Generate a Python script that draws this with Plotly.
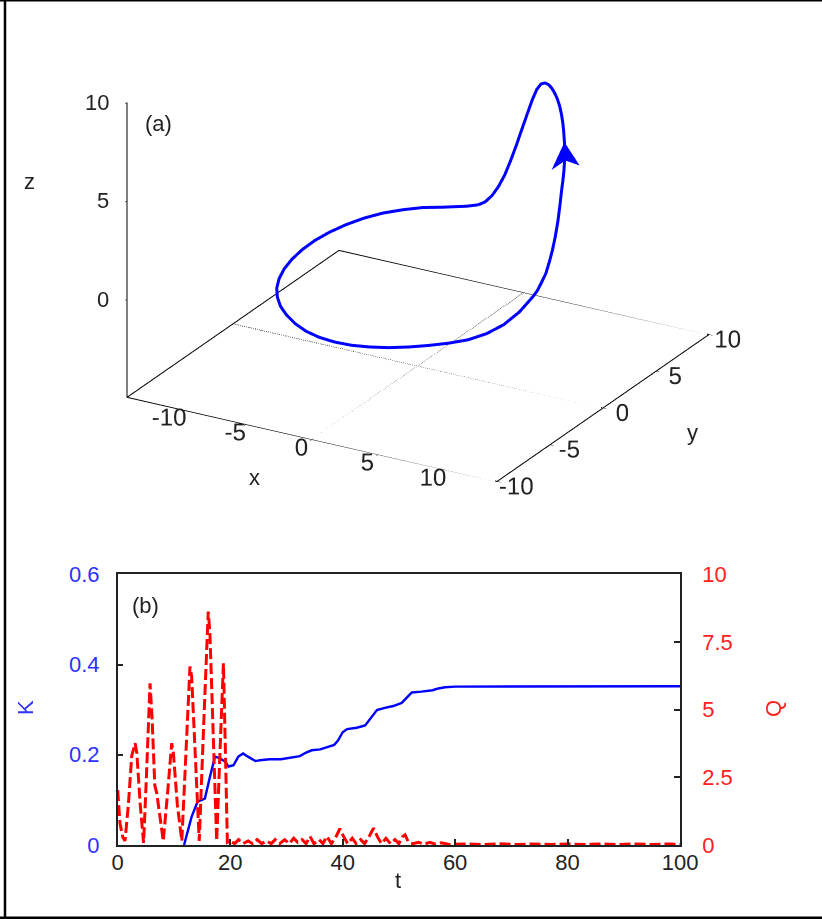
import plotly.graph_objects as go

# ---------------- panel (a): trajectory ----------------
traj_x = [-1.20, -1.91, -2.59, -3.25, -4.23, -5.11, -5.88, -6.51, -6.99, -7.31,
          -7.48, -7.48, -7.31, -6.99, -6.51, -5.88, -5.11, -4.23, -3.25, -2.18,
          -1.06, 0.11, 1.30, 2.48, 3.63, 4.73, 5.75, 6.69, 7.51, 8.21,
          8.77, 9.17, 9.42, 9.50, 9.49, 9.45, 9.40, 9.31, 9.21, 9.08,
          8.94, 8.77, 8.57, 8.36, 8.13, 7.88, 7.61, 7.32, 7.01, 6.69,
          6.35, 6.00, 5.63, 5.25, 4.86, 4.46, 4.05, 3.63, 3.20, 2.77,
          2.33, 1.89, 1.44, 1.00, 0.56, 0.11, -0.33, -0.77, -1.20]
traj_y = [7.21, 6.99, 6.70, 6.36, 5.70, 4.90, 4.00, 2.99, 1.91, 0.77,
          -0.41, -1.59, -2.77, -3.91, -4.99, -6.00, -6.90, -7.70, -8.36, -8.88,
          -9.25, -9.45, -9.49, -9.37, -9.08, -8.64, -8.05, -7.32, -6.46, -5.50,
          -4.46, -3.34, -2.18, -1.00, -0.56, -0.11, 0.33, 0.77, 1.20, 1.63,
          2.05, 2.46, 2.86, 3.25, 3.63, 4.00, 4.35, 4.69, 5.01, 5.32,
          5.61, 5.88, 6.13, 6.36, 6.57, 6.77, 6.94, 7.08, 7.21, 7.31,
          7.40, 7.45, 7.49, 7.50, 7.49, 7.45, 7.40, 7.31, 7.21]
traj_z = [0.32, 0.22, 0.20, 0.20, 0.28, 0.33, 0.38, 0.40, 0.40, 0.40,
          0.39, 0.37, 0.35, 0.33, 0.31, 0.30, 0.29, 0.26, 0.22, 0.14,
          0.06, 0.00, -0.04, -0.07, -0.09, -0.12, -0.15, -0.20, -0.28, -0.36,
          -0.35, -0.25, 0.00, 0.35, 0.50, 0.75, 1.00, 1.40, 1.85, 2.35,
          2.95, 3.60, 4.15, 4.50, 4.80, 5.10, 5.40, 5.75, 6.10, 6.42,
          6.70, 6.95, 7.15, 7.30, 7.41, 7.46, 7.42, 7.25, 6.85, 6.20,
          5.40, 4.55, 3.65, 2.80, 2.00, 1.35, 0.85, 0.50, 0.32]
arrow_at = 47          # arrow tip sits on this trajectory sample
arrow_len = 1.42       # arrow head length / half width in data units
arrow_half = 0.83

x_range = [-14, 14]
y_range = [-10, 10]
z_range = [-5, 10]
x_ticks = [-10, -5, 0, 5, 10]
y_ticks = [-10, -5, 0, 5, 10]
z_ticks = [0, 5, 10]

# ---------------- panel (b): K(t) and Q(t) ----------------
t_K = [11.8, 12.5, 13.15, 14.2, 15.5, 16.4, 17.3, 18.2, 19.1, 19.7, 20.6, 21.45,
       22.3, 23.0, 24.5, 25.3, 27.0, 29.0, 31.0, 32.4, 33.5, 34.5, 36.0, 37.2,
       38.5, 39.2, 40.0, 40.8, 42.5, 44.0, 45.0, 46.1, 47.5, 49.0, 50.5, 51.5,
       52.3, 54.0, 56.0, 57.0, 58.2, 60.0, 100.0]
K = [0.0, 0.03, 0.063, 0.096, 0.103, 0.151, 0.196, 0.192, 0.185, 0.174, 0.177, 0.196,
     0.203, 0.197, 0.186, 0.188, 0.19, 0.19, 0.194, 0.197, 0.205, 0.21, 0.212, 0.2165,
     0.222, 0.232, 0.25, 0.257, 0.26, 0.265, 0.28, 0.299, 0.304, 0.308, 0.315, 0.328,
     0.338, 0.34, 0.343, 0.347, 0.3495, 0.351, 0.352]

t_Q = [0.0, 0.4, 0.9, 1.3, 1.9, 2.5, 3.1, 3.4, 4.0, 4.6, 5.1, 5.75, 6.1, 6.6, 6.95,
       7.5, 8.1, 8.9, 9.6, 9.9, 10.6, 11.4, 12.1, 12.85, 13.15, 13.9, 14.5, 15.3,
       16.1, 16.4, 17.0, 17.6, 18.2, 18.8, 19.2, 19.5, 20.0, 20.8, 21.5, 22.3, 23.2,
       24.0, 24.8, 25.6, 26.5, 27.3, 28.0, 28.8, 29.7, 30.5, 31.3, 32.0, 32.8, 33.5,
       34.2, 34.9, 35.8, 36.5, 37.2, 38.0, 38.8, 39.5, 40.2, 40.9, 41.7, 42.4, 43.2,
       43.9, 44.8, 45.5, 46.2, 46.9, 47.7, 48.5, 49.3, 50.0, 50.6, 51.1, 51.7, 52.5,
       53.5, 54.5, 55.5, 56.5, 57.5, 59.0, 62.0, 65.0, 68.0, 71.0, 74.0, 77.0, 80.0,
       83.0, 86.0, 89.0, 92.0, 95.0, 98.0, 100.0]
Q = [2.03, 0.8, 0.3, 0.15, 1.5, 3.3, 3.76, 3.39, 1.5, 0.08, 2.5, 5.97, 4.74, 2.2, 1.91,
     1.0, 0.15, 2.0, 3.76, 3.39, 1.5, 0.15, 3.5, 6.59, 6.22, 3.0, 0.15, 4.5,
     8.62, 7.82, 4.0, 0.15, 3.5, 6.71, 3.0, 0.1, 0.15, 0.05, 0.2, 0.05, 0.15,
     0.05, 0.2, 0.05, 0.15, 0.05, 0.2, 0.05, 0.2, 0.05, 0.25, 0.1, 0.2, 0.05,
     0.32, 0.05, 0.2, 0.05, 0.32, 0.05, 0.3, 0.6, 0.3, 0.05, 0.25, 0.05, 0.2,
     0.05, 0.35, 0.62, 0.3, 0.05, 0.25, 0.05, 0.2, 0.05, 0.3, 0.38, 0.1, 0.05,
     0.1, 0.03, 0.1, 0.03, 0.08, 0.02, 0.04, 0.02, 0.05, 0.02, 0.04, 0.02, 0.04,
     0.02, 0.04, 0.02, 0.04, 0.02, 0.04, 0.02]
t_ticks = [0, 20, 40, 60, 80, 100]
K_ticks = [0, 0.2, 0.4, 0.6]
Q_ticks = [0, 2.5, 5, 7.5, 10]

W, H = 822, 919
FONT = "Liberation Sans, Arial, sans-serif"
FS = 22
FS3 = 17
BLUE = "#0000ff"
RED = "#ff0000"

fig = go.Figure()

# --- 3D frame: base rectangle, z axis, dotted zero lines ---
x0, x1 = x_range
y0, y1 = y_range
zb, zt = z_range
fig.add_trace(go.Scatter3d(
    x=[x0, x1, x1, x0, x0], y=[y0, y0, y1, y1, y0], z=[zb] * 5,
    mode="lines", line=dict(color="black", width=2), hoverinfo="skip", showlegend=False))
fig.add_trace(go.Scatter3d(
    x=[x0, x0], y=[y0, y0], z=[zb, zt],
    mode="lines", line=dict(color="black", width=2), hoverinfo="skip", showlegend=False))
fig.add_trace(go.Scatter3d(
    x=[0, 0], y=[y0, y1], z=[zb, zb],
    mode="lines", line=dict(color="black", width=2, dash="dot"), hoverinfo="skip", showlegend=False))
fig.add_trace(go.Scatter3d(
    x=[x0, x1], y=[0, 0], z=[zb, zb],
    mode="lines", line=dict(color="black", width=2, dash="dot"), hoverinfo="skip", showlegend=False))

# --- trajectory ---
fig.add_trace(go.Scatter3d(
    x=traj_x, y=traj_y, z=traj_z, mode="lines",
    line=dict(color=BLUE, width=6), hoverinfo="skip", showlegend=False))

# --- arrow head (flat filled), built around the tangent at arrow_at ---
i = arrow_at
tx, ty, tz = traj_x[i], traj_y[i], traj_z[i]
dx = traj_x[i + 1] - traj_x[i - 1]
dy = traj_y[i + 1] - traj_y[i - 1]
dz = traj_z[i + 1] - traj_z[i - 1]
dn = (dx * dx + dy * dy + dz * dz) ** 0.5
dx, dy, dz = dx / dn, dy / dn, dz / dn
nh = (dx * dx + dy * dy) ** 0.5
nx, ny = dy / nh, -dx / nh
bx, by, bz = tx - arrow_len * dx, ty - arrow_len * dy, tz - arrow_len * dz
mx, my, mz = tx - 0.72 * arrow_len * dx, ty - 0.72 * arrow_len * dy, tz - 0.72 * arrow_len * dz
fig.add_trace(go.Mesh3d(
    x=[tx, bx + arrow_half * nx, mx, bx - arrow_half * nx],
    y=[ty, by + arrow_half * ny, my, by - arrow_half * ny],
    z=[tz, bz, mz, bz],
    i=[0, 0], j=[1, 2], k=[2, 3], color=BLUE, flatshading=True,
    lighting=dict(ambient=1.0, diffuse=0.0, specular=0.0, roughness=1.0, fresnel=0.0),
    hoverinfo="skip", showscale=False))

# --- panel (b) ---
fig.add_trace(go.Scatter(
    x=t_Q, y=Q, mode="lines", yaxis="y2", xaxis="x",
    line=dict(color=RED, width=3, dash="11px,4px"), hoverinfo="skip", showlegend=False))
fig.add_trace(go.Scatter(
    x=t_K, y=K, mode="lines", yaxis="y", xaxis="x",
    line=dict(color=BLUE, width=2.4), hoverinfo="skip", showlegend=False))

eye_dir = (0.456, -0.7964, 0.397)
eye_n = 2.0
zoom3 = 1.64
cam_dz = -0.174         # look-at point moved down so the box sits high in its domain
center = dict(x=0, y=0, z=cam_dz)


def ax3(rng, ticks, labels=True):
    return dict(showgrid=False, zeroline=False, showbackground=False, showline=False,
                ticks="inside", ticklen=4, tickcolor="black", showspikes=False, tickangle=0,
                range=rng, tickvals=ticks, ticktext=[str(v) for v in ticks],
                showticklabels=labels,
                tickfont=dict(family=FONT, size=FS3, color="#222"), title=dict(text=""))


z_labels = [dict(x=x0, y=y0, z=v, text=str(v), showarrow=False, xanchor="right",
                 yanchor="middle", xshift=-16, font=dict(family=FONT, size=22, color="#222"))
            for v in z_ticks]

fig.update_layout(
    width=W, height=H, margin=dict(l=0, r=0, t=0, b=0, autoexpand=False),
    paper_bgcolor="white", plot_bgcolor="white", showlegend=False, hovermode=False,
    font=dict(family=FONT, size=FS, color="#222"),
    scene=dict(
        domain=dict(x=[0.0232, 0.9937], y=[0.4342, 1.0]),
        aspectmode="manual", aspectratio=dict(x=zoom3, y=zoom3, z=0.7535 * zoom3),
        camera=dict(projection=dict(type="orthographic"),
                    eye=dict(x=eye_dir[0] * eye_n, y=eye_dir[1] * eye_n,
                             z=eye_dir[2] * eye_n + cam_dz),
                    up=dict(x=0, y=0, z=1), center=center),
        xaxis=ax3(x_range, x_ticks),
        yaxis=ax3(y_range, y_ticks),
        zaxis=ax3(z_range, z_ticks, labels=False),
        annotations=z_labels,
    ),
    xaxis=dict(domain=[0.1432, 0.8273], anchor="y", range=[0, 100], tickvals=t_ticks,
               ticks="inside", ticklen=6, tickwidth=1.5, tickcolor="#222",
               showline=True, mirror=True, linecolor="#222", linewidth=1.5,
               showgrid=False, zeroline=False, ticklabelstandoff=-3, automargin=False),
    yaxis=dict(domain=[0.0805, 0.3751], anchor="x", range=[0, 0.6], tickvals=K_ticks,
               ticks="inside", ticklen=6, tickwidth=1.5, tickcolor="#222",
               showline=True, linecolor="#222", linewidth=1.5,
               showgrid=False, zeroline=False, ticklabelstandoff=12, automargin=False,
               tickfont=dict(color="#3030ff")),
    yaxis2=dict(overlaying="y", side="right", anchor="x", range=[0, 10], tickvals=Q_ticks,
                ticks="inside", ticklen=6, tickwidth=1.5, tickcolor="#222",
                showline=True, linecolor="#222", linewidth=1.5,
                showgrid=False, zeroline=False, ticklabelstandoff=16, automargin=False,
                tickfont=dict(color="#ff2020")),
)


def px(xp, yp):
    return xp / W, 1 - yp / H


annots = [
    ("(a)", 158, 123, "#222", 0),
    ("z", 30, 182, "#222", 0),
    ("x", 254, 477, "#222", 0),
    ("y", 692, 432, "#222", 0),
    ("(b)", 145, 605, "#222", 0),
    ("t", 398, 880, "#222", 0),
    ("K", 25, 708, "#3030ff", -90),
    ("Q", 773, 709, "#ff2020", -90),
]
for txt, ax_, ay_, col, ang in annots:
    xx, yy = px(ax_, ay_)
    fig.add_annotation(x=xx, y=yy, xref="paper", yref="paper", text=txt, showarrow=False,
                       xanchor="center", yanchor="middle", textangle=ang,
                       font=dict(family=FONT, size=FS, color=col))

# outer frame lines
for (xa, ya, xb, yb, w) in [(5, 0, 5, H, 2.5), (0, 0.7, W, 0.7, 1.5), (0, H - 1.2, W, H - 1.2, 2.5)]:
    a = px(xa, ya); b = px(xb, yb)
    fig.add_shape(type="line", xref="paper", yref="paper", x0=a[0], y0=a[1], x1=b[0], y1=b[1],
                  line=dict(color="black", width=w))

fig.write_html("out.html", config={"displayModeBar": False},
               post_script="document.body.style.margin='0';document.body.style.overflow='hidden';")
